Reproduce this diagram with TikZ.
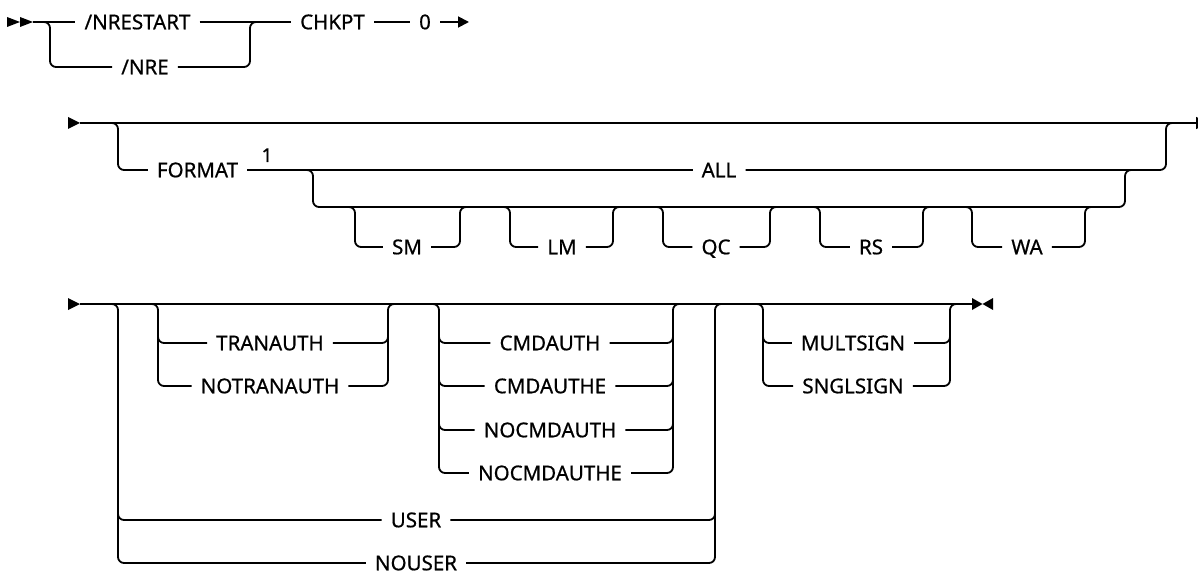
\documentclass[tikz,border=0pt]{standalone}
\usepackage{fontspec}
\setmainfont{Noto Sans}
\newfontfamily\kwfont{Noto Sans}[FakeBold=0.6]
\usetikzlibrary{arrows.meta}
\begin{document}
\begin{tikzpicture}[x=1pt,y=-1pt,
  rr/.style={line width=1.8pt, rounded corners=6pt},
  kw/.style={font=\kwfont\fontsize{20.5}{24}\selectfont, inner xsep=9pt, inner ysep=0pt, text height=14.6pt, text depth=0pt},
  supnum/.style={font=\kwfont\fontsize{19}{22}\selectfont, inner sep=0pt},
  tipend/.style={-{Triangle[length=11pt,width=11pt]}}]
\useasboundingbox (0,0) rectangle (1198,572);

% ---------- Row 1 ----------
\coordinate (s1) at (33,22);
\coordinate (e1) at (469,22);
\fill (7,17) -- (20,22) -- (7,27) -- cycle;
\fill (20,17) -- (33,22) -- (20,27) -- cycle;
\node[kw] (nrestart) at (137.5,22) {/NRESTART};
\node[kw] (nre) at (145,67) {/NRE};
\node[kw] (chkpt) at (332.5,22) {CHKPT};
\node[kw] (zero) at (425,22) {0};
\draw[rr] (s1) -- (nrestart.west);
\draw[rr] (nrestart.east) -- (chkpt.west);
\draw[rr] (chkpt.east) -- (zero.west);
\draw[rr,tipend] (zero.east) -- (e1);
\draw[rr] (38,22) -| (50,67) -- (nre.west);
\draw[rr] (nre.east) -| (250,22) -- (260,22);

% ---------- Row 2 ----------
\coordinate (s2) at (80,123);
\coordinate (e2) at (1208,123);
\fill (68,117) -- (80,123) -- (68,129) -- cycle;
\draw[rr,-{Triangle[length=12pt,width=12pt]}] (s2) -- (e2);
\node[kw] (format) at (197.5,170) {FORMAT};
\node[supnum,anchor=base] (sup1) at (267,162) {1};
\node[kw] (all) at (719,170) {ALL};
\draw[rr] (108,123) -| (118,170) -- (format.west);
\draw[rr] (format.east) -- (all.west);
\draw[rr] (all.east) -| (1166,123) -- (1176,123);
\draw[rr] (303,170) -| (313,207) -| (1125,170) -- (1135,170);

\node[kw] (sm) at (407,247) {SM};
\draw[rr] (347,207) -| (355,247) -- (sm.west);
\draw[rr] (sm.east) -| (460,207) -- (468,207);
\node[kw] (lm) at (562,247) {LM};
\draw[rr] (502,207) -| (510,247) -- (lm.west);
\draw[rr] (lm.east) -| (613,207) -- (621,207);
\node[kw] (qc) at (716,247) {QC};
\draw[rr] (655,207) -| (663,247) -- (qc.west);
\draw[rr] (qc.east) -| (770,207) -- (778,207);
\node[kw] (rs) at (871,247) {RS};
\draw[rr] (812,207) -| (820,247) -- (rs.west);
\draw[rr] (rs.east) -| (923,207) -- (931,207);
\node[kw] (wa) at (1027,247) {WA};
\draw[rr] (964,207) -| (972,247) -- (wa.west);
\draw[rr] (wa.east) -| (1085,207) -- (1093,207);

% ---------- Row 3 ----------
\coordinate (s3) at (80,304);
\coordinate (e3) at (972,304);
\fill (68,298) -- (80,304) -- (68,310) -- cycle;
\draw[rr] (s3) -- (e3);
\fill (972,298) -- (982.5,304) -- (972,310) -- cycle;
\fill (993,298) -- (982.5,304) -- (993,310) -- cycle;

% TRANAUTH group
\node[kw] (tranauth) at (270,343) {TRANAUTH};
\node[kw] (notranauth) at (270,386) {NOTRANAUTH};
\draw[rr] (150,304) -| (158,386) -- (notranauth.west);
\draw[rr] (158,320) |- (tranauth.west);
\draw[rr] (notranauth.east) -| (388,304) -- (396,304);
\draw[rr] (tranauth.east) -| (388,320);

% CMDAUTH group
\node[kw] (cmdauth) at (550,343) {CMDAUTH};
\node[kw] (cmdauthe) at (550,386) {CMDAUTHE};
\node[kw] (nocmdauth) at (550,430) {NOCMDAUTH};
\node[kw] (nocmdauthe) at (550,473) {NOCMDAUTHE};
\draw[rr] (431,304) -| (439,473) -- (nocmdauthe.west);
\draw[rr] (439,320) |- (cmdauth.west);
\draw[rr] (439,360) |- (cmdauthe.west);
\draw[rr] (439,405) |- (nocmdauth.west);
\draw[rr] (nocmdauthe.east) -| (673,304) -- (681,304);
\draw[rr] (cmdauth.east) -| (673,320);
\draw[rr] (cmdauthe.east) -| (673,360);
\draw[rr] (nocmdauth.east) -| (673,405);

% USER / NOUSER
\node[kw] (user) at (416,520) {USER};
\node[kw] (nouser) at (416,563) {NOUSER};
\draw[rr] (110,304) -| (118,563) -- (nouser.west);
\draw[rr] (118,500) |- (user.west);
\draw[rr] (nouser.east) -| (715,304) -- (723,304);
\draw[rr] (user.east) -| (715,500);

% MULTSIGN group
\node[kw] (mult) at (853,343) {MULTSIGN};
\node[kw] (sngl) at (853,386) {SNGLSIGN};
\draw[rr] (755,304) -| (763,386) -- (sngl.west);
\draw[rr] (763,320) |- (mult.west);
\draw[rr] (sngl.east) -| (950,304) -- (958,304);
\draw[rr] (mult.east) -| (950,320);
\end{tikzpicture}
\end{document}
